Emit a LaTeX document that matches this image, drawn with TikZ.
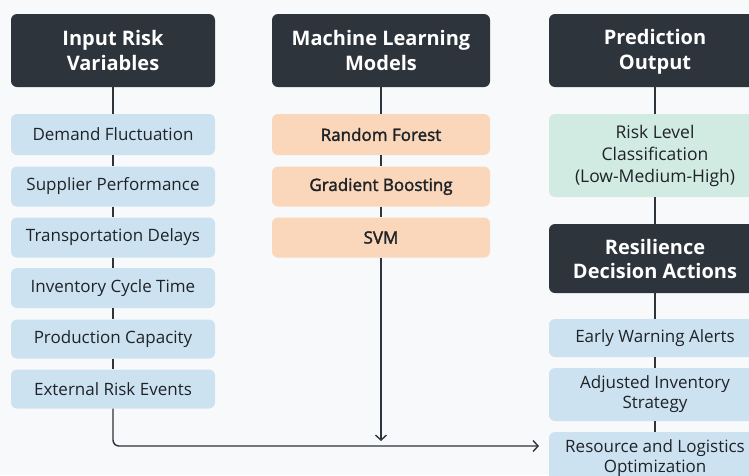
\documentclass[tikz,border=0pt]{standalone}
\usepackage{fontspec}
\setmainfont{Open Sans}
\newfontfamily\semifont[FakeBold=2]{Open Sans}
\usetikzlibrary{arrows.meta}
\definecolor{bgc}{HTML}{F8F9FA}
\definecolor{hdrc}{HTML}{2E343B}
\definecolor{bluec}{HTML}{CDE2F1}
\definecolor{orangec}{HTML}{FAD7BA}
\definecolor{greenc}{HTML}{D2EBE2}
\definecolor{linec}{HTML}{2E343B}
\definecolor{txtc}{HTML}{1F2328}
\tikzset{
  hdr/.style={fill=hdrc, rounded corners=6pt, text=white, align=center, inner sep=0pt,
    font=\fontsize{20}{25}\selectfont\bfseries},
  item/.style={rounded corners=6pt, text=txtc, align=center, inner sep=0pt,
    font=\fontsize{17}{20}\selectfont},
  bluebox/.style={item, fill=bluec},
  orangebox/.style={item, fill=orangec, font=\fontsize{17}{20}\semifont},
  greenbox/.style={item, fill=greenc},
  conn/.style={draw=linec, line width=1.4pt},
  arr/.style={conn, -{Straight Barb[length=5pt,width=11pt,line width=1.4pt]}}
}
\begin{document}
\begin{tikzpicture}[x=1pt,y=-1pt]
\path[use as bounding box, fill=bgc] (0,0) rectangle (749,475);
\clip (0,0) rectangle (749,475);
% left column
\node[hdr, minimum width=204pt, minimum height=73pt] (lh) at (113,50.5) {Input Risk\\Variables};
\node[bluebox, minimum width=204pt, minimum height=41pt] (l1) at (113,134.5) {Demand Fluctuation};
\node[bluebox, minimum width=204pt, minimum height=40pt] (l2) at (113,186.5) {Supplier Performance};
\node[bluebox, minimum width=204pt, minimum height=40pt] (l3) at (113,237.5) {Transportation Delays};
\node[bluebox, minimum width=204pt, minimum height=40pt] (l4) at (113,288) {Inventory Cycle Time};
\node[bluebox, minimum width=204pt, minimum height=39pt] (l5) at (113,339) {Production Capacity};
\node[bluebox, minimum width=204pt, minimum height=39pt] (l6) at (113,389) {External Risk Events};
% middle column
\node[hdr, minimum width=218pt, minimum height=73pt] (mh) at (381,50.5) {Machine Learning\\Models};
\node[orangebox, minimum width=218pt, minimum height=41pt] (m1) at (381,134.5) {Random Forest};
\node[orangebox, minimum width=218pt, minimum height=40pt] (m2) at (381,186.5) {Gradient Boosting};
\node[orangebox, minimum width=218pt, minimum height=40pt] (m3) at (381,237.5) {SVM};
% right column
\node[hdr, minimum width=212pt, minimum height=73pt] (rh) at (655,50.5) {};
\node[hdr, anchor=north] (rht) at (655,29) {Prediction\\Output};
\node[greenbox, minimum width=212pt, minimum height=83pt, font=\fontsize{17.5}{22}\selectfont] (r1) at (655,155.5) {Risk Level\\Classification\\(Low-Medium-High)};
\node[hdr, minimum width=212pt, minimum height=69pt, font=\fontsize{20}{24}\selectfont\bfseries] (rh2) at (655,258.5) {Resilience\\Decision Actions};
\node[bluebox, minimum width=212pt, minimum height=38pt] (r2) at (655,338) {Early Warning Alerts};
\node[bluebox, minimum width=212pt, minimum height=53pt] (r3) at (655,394.5) {Adjusted Inventory\\Strategy};
\node[bluebox, minimum width=212pt, minimum height=53pt] (r4) at (655,458.5) {};
\node[item, anchor=north] (r4t) at (655,439) {Resource and Logistics\\Optimization};
% connectors
\draw[conn] (lh) -- (l1);
\draw[conn] (l1) -- (l2);
\draw[conn] (l2) -- (l3);
\draw[conn] (l3) -- (l4);
\draw[conn] (l4) -- (l5);
\draw[conn] (l5) -- (l6);
\draw[conn] (mh) -- (m1);
\draw[conn] (m1) -- (m2);
\draw[conn] (m2) -- (m3);
\draw[conn] (rh) -- (r1);
\draw[conn] (r1) -- (rh2);
\draw[conn] (rh2) -- (r2);
\draw[conn] (r2) -- (r3);
\draw[conn] (r3) -- (r4);
\coordinate (mend) at (381,441);
\coordinate (corner) at (113,446);
\coordinate (rend) at (539,446);
\draw[arr] (m3.south) -- (mend);
\draw[arr, rounded corners=6pt] (l6.south) -- (corner) -- (rend);
\end{tikzpicture}
\end{document}
